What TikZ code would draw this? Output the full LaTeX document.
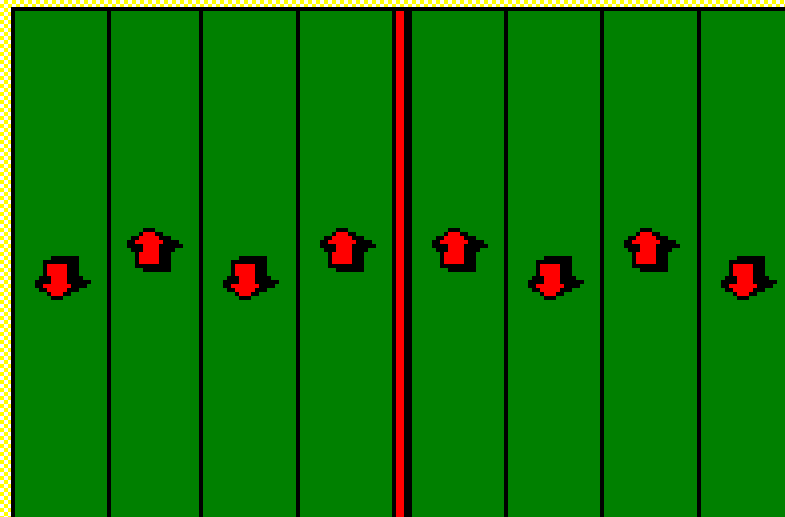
\documentclass[tikz,border=0pt]{standalone}
\definecolor{fieldgreen}{RGB}{0,128,0}
\definecolor{chkyellow}{RGB}{255,255,0}
\definecolor{arrowred}{RGB}{255,0,0}
\tikzset{
  chk/.style={fill=chkyellow},
  turf/.style={fill=fieldgreen},
  blk/.style={fill=black},
  rd/.style={fill=arrowred},
}
\newcommand\arrowcells{%
  \foreach \r/\a/\b in {0/4/10,1/2/10,2/2/10,3/2/10,4/2/10,5/1/11,6/0/13,7/0/12,8/1/10,9/3/8,10/4/6}
    \fill[blk] (4*\a-0.1,4*\r-0.1) rectangle (4*\b+4.1,4*\r+4.1);
  \foreach \r/\a/\b in {2/3/7,3/3/7,4/3/7,5/4/7,6/4/7,7/2/8,8/3/7,9/4/6}
    \fill[rd] (4*\a-0.1,4*\r-0.1) rectangle (4*\b+4.1,4*\r+4.1);
}
\begin{document}
\begin{tikzpicture}[x=1pt,y=-1pt]
\useasboundingbox (0,0) rectangle (785,517);
\clip (0,0) rectangle (785,517);
\fill[white] (0,0) rectangle (785,517);
% checker border
\foreach \k in {0,...,98}{
  \fill[chk] (8*\k+4,0) rectangle (8*\k+8,4);
  \fill[chk] (8*\k,4) rectangle (8*\k+4,8);
}
\foreach \k in {0,...,64}{
  \fill[chk] (0,8*\k+4) rectangle (4,8*\k+8);
  \fill[chk] (4,8*\k) rectangle (8,8*\k+4);
  \fill[chk] (8,8*\k+4) rectangle (12,8*\k+8);
}
% field frame and lanes
\fill[blk] (11,7) rectangle (785,517);
\foreach \a/\b in {15/107,111/199,203/296,300/392,412/504,508/600,604/697,701/785}
  \fill[turf] (\a,11) rectangle (\b,517);
\fill[rd] (396,11) rectangle (404,517);
% down arrows
\foreach \x in {35,223,528,721}{
  \begin{scope}[shift={(\x,256)}]\arrowcells\end{scope}
}
% up arrows
\foreach \x in {127,320,432,624}{
  \begin{scope}[shift={(\x,272)},yscale=-1]\arrowcells\end{scope}
}
\end{tikzpicture}
\end{document}
